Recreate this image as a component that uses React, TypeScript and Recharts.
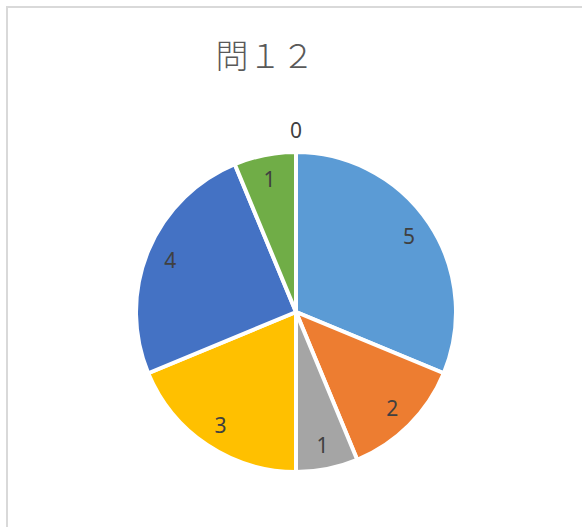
import React from 'react';
import { PieChart, Pie, Cell } from 'recharts';

const categories = ['1', '2', '3', '4', '5', '6', '7'];
const values = [5, 2, 1, 3, 4, 1, 0];
const colors = ['#5B9BD5', '#ED7D31', '#A5A5A5', '#FFC000', '#4472C4', '#70AD47', '#255E91'];
const title = '問１２';

const data = categories.map((name, i) => ({ name, value: values[i] }));
const RADIAN = Math.PI / 180;

const renderLabel = (props: any) => {
  const { cx, cy, midAngle, outerRadius, value, index } = props;
  const r = value === 0 ? outerRadius + 22 : 136;
  const x = cx + r * Math.cos(-midAngle * RADIAN);
  const y = cy + r * Math.sin(-midAngle * RADIAN);
  return (
    <text
      key={`lbl-${index}`}
      x={x}
      y={y}
      fill="#404040"
      fontSize={21}
      fontFamily="'Noto Sans', 'Liberation Sans', sans-serif"
      textAnchor="middle"
      dominantBaseline="central"
    >
      {value}
    </text>
  );
};

export default function App() {
  return (
    <div style={{ position: 'absolute', left: 0, top: 0, width: 582, height: 527, background: '#fff', overflow: 'hidden' }}>
      <div
        style={{
          position: 'absolute',
          left: 6,
          top: 6,
          width: 700,
          height: 700,
          border: '2px solid #d9d9d9',
          boxSizing: 'border-box',
        }}
      />
      <div
        style={{
          position: 'absolute',
          left: 0,
          top: 36,
          width: 530,
          textAlign: 'center',
          fontFamily: "'Noto Sans CJK JP', sans-serif",
          fontWeight: 300,
          fontSize: 33,
          lineHeight: '36px',
          color: '#595959',
        }}
      >
        {title}
      </div>
      <div style={{ position: 'absolute', left: 0, top: 0 }}>
        <PieChart width={582} height={527} margin={{ top: 0, right: 0, bottom: 0, left: 0 }}>
          <Pie
            data={data}
            dataKey="value"
            nameKey="name"
            cx={296}
            cy={312}
            outerRadius={160}
            startAngle={90}
            endAngle={-270}
            stroke="#ffffff"
            strokeWidth={4}
            label={renderLabel}
            labelLine={false}
            isAnimationActive={false}
          >
            {data.map((d, i) => (
              <Cell key={d.name} fill={colors[i]} />
            ))}
          </Pie>
        </PieChart>
      </div>
    </div>
  );
}
